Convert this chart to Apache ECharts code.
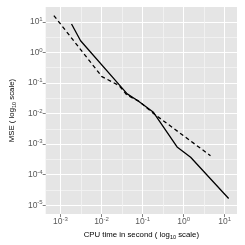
<!DOCTYPE html>
<html>
<head>
<meta charset="utf-8">
<script src="https://cdn.jsdelivr.net/npm/echarts@6/dist/echarts.min.js"></script>
<style>html,body{margin:0;padding:0;background:#fff}#c{width:245px;height:245px}</style>
</head>
<body>
<div id="c"></div>
<script>
// Data
const solidX = [0.00186, 0.00309, 0.0422, 0.0769, 0.184, 0.692, 1.48, 12.5];
const solidY = [8.5, 2.4, 0.0441, 0.0263, 0.011, 0.00081, 0.00037, 0.0000166];
const dashX = [0.00069, 0.0102, 0.0268, 0.0415, 0.0822, 0.184, 4.51];
const dashY = [16.1, 0.162, 0.0824, 0.0405, 0.0251, 0.0101, 0.000417];
const xTicks = [1e-3, 1e-2, 1e-1, 1e0, 1e1];
const yTicks = [1e-5, 1e-4, 1e-3, 1e-2, 1e-1, 1e0, 1e1];
const xMinor = [Math.pow(10,-2.5), Math.pow(10,-1.5), Math.pow(10,-0.5), Math.pow(10,0.5)];
const yMinor = [Math.pow(10,-4.5), Math.pow(10,-3.5), Math.pow(10,-2.5), Math.pow(10,-1.5), Math.pow(10,-0.5), Math.pow(10,0.5)];
const xRange = [Math.pow(10,-3.36), Math.pow(10,1.30)];
const yRange = [Math.pow(10,-5.29), Math.pow(10,1.486)];

const zip = (a, b) => a.map((v, i) => [v, b[i]]);
const labCol = '#5a5a5a';
const FONT = 'Liberation Sans';
const rich = {
  b: {fontSize: 8.5, color: labCol, fontFamily: FONT},
  s: {fontSize: 6, color: labCol, fontFamily: FONT, padding: [0, 0, 5, 0]}
};
const fmt = v => '{b|10}{s|' + Math.round(Math.log10(v)) + '}';

const chart = echarts.init(document.getElementById('c'), null, {renderer: 'canvas'});
chart.setOption({
  animation: false,
  backgroundColor: '#fff',
  grid: {left: 33.5, right: 8, top: 7, bottom: 19, show: true, backgroundColor: '#E5E5E5', borderWidth: 0},
  xAxis: [{
    type: 'log', min: xRange[0], max: xRange[1],
    axisLine: {show: false},
    axisTick: {show: true, length: 3, customValues: xTicks, lineStyle: {color: '#7F7F7F', width: 1}},
    axisLabel: {customValues: xTicks, formatter: fmt, rich: rich, margin: 2},
    splitLine: {show: true, lineStyle: {color: '#FFFFFF', width: 1}},
    name: 'CPU time in second ( log{sub|10} scale)', nameLocation: 'middle', nameGap: 10,
    nameTextStyle: {fontSize: 7.8, color: '#000', fontFamily: FONT,
      rich: {sub: {fontSize: 5.5, color: '#000', fontFamily: FONT, padding: [4, 0, 0, 0]}}}
  }, {
    type: 'log', min: xRange[0], max: xRange[1], position: 'bottom',
    axisLine: {show: false}, axisLabel: {show: false},
    axisTick: {show: false, customValues: xMinor},
    splitLine: {show: true, lineStyle: {color: '#F4F4F4', width: 0.8}}
  }],
  yAxis: [{
    type: 'log', min: yRange[0], max: yRange[1],
    axisLine: {show: false},
    axisTick: {show: true, length: 3, customValues: yTicks, lineStyle: {color: '#7F7F7F', width: 1}},
    axisLabel: {customValues: yTicks, formatter: fmt, rich: rich, margin: 3},
    splitLine: {show: true, lineStyle: {color: '#FFFFFF', width: 1}},
    name: 'MSE ( log{sub|10} scale)', nameLocation: 'middle', nameGap: 20, nameRotate: 90,
    nameTextStyle: {fontSize: 7.8, color: '#000', fontFamily: FONT,
      rich: {sub: {fontSize: 5.5, color: '#000', fontFamily: FONT, padding: [4, 0, 0, 0]}}}
  }, {
    type: 'log', min: yRange[0], max: yRange[1], position: 'left',
    axisLine: {show: false}, axisLabel: {show: false},
    axisTick: {show: false, customValues: yMinor},
    splitLine: {show: true, lineStyle: {color: '#F4F4F4', width: 0.8}}
  }],
  series: [{
    type: 'line', xAxisIndex: 0, yAxisIndex: 0, data: zip(solidX, solidY),
    showSymbol: false, lineStyle: {color: '#000', width: 1.3, type: 'solid'}, z: 5
  }, {
    type: 'line', xAxisIndex: 0, yAxisIndex: 0, data: zip(dashX, dashY),
    showSymbol: false, lineStyle: {color: '#000', width: 1.3, type: [4, 3]}, z: 5
  }]
});
</script>
</body>
</html>
